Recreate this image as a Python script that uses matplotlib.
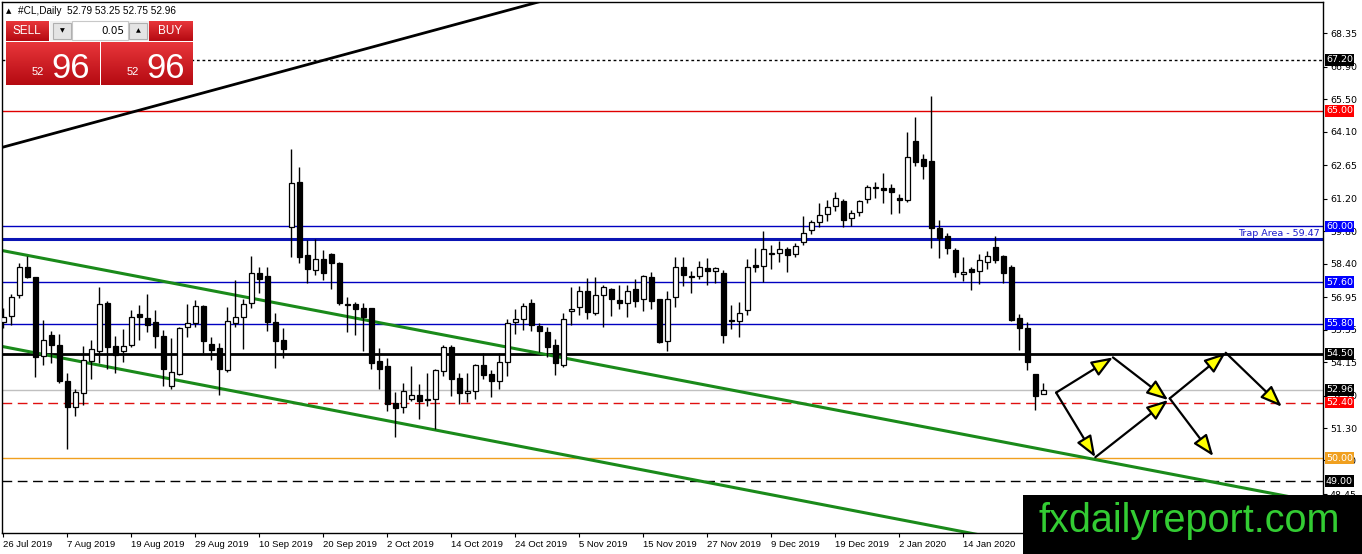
import numpy as np
import matplotlib
matplotlib.use("Agg")
import matplotlib.pyplot as plt
from matplotlib.patches import Rectangle, FancyArrowPatch
from matplotlib.colors import LinearSegmentedColormap

W, H, DPI = 1362, 554, 100

# daily bars of #CL, one per trading day starting 26 Jul 2019
opens = [55.89, 56.14, 57.03, 58.26, 57.81, 54.41, 55.30, 54.87, 53.32, 52.22,
         52.80, 54.21, 54.64, 56.71, 54.84, 54.64, 54.87, 56.22, 56.05, 55.88,
         55.27, 53.11, 53.63, 55.65, 55.82, 56.57, 54.93, 54.75, 53.81, 55.85,
         56.11, 56.71, 57.98, 57.86, 55.88, 55.10, 59.99, 61.92, 58.76, 58.12,
         58.61, 58.81, 58.41, 56.65, 56.65, 56.48, 56.48, 54.21, 53.98, 52.37,
         52.20, 52.57, 52.71, 52.57, 52.57, 53.78, 54.81, 53.46, 52.83, 52.89,
         54.01, 53.63, 53.32, 54.15, 55.88, 55.99, 56.68, 55.70, 55.45, 54.87,
         54.03, 56.36, 56.51, 57.20, 56.28, 57.03, 57.31, 56.83, 56.71, 57.31,
         56.86, 57.81, 56.86, 55.04, 56.94, 58.24, 57.83, 57.86, 58.21, 58.07,
         57.98, 55.96, 55.91, 56.39, 58.32, 58.29, 58.81, 58.87, 59.01, 58.82,
         59.32, 59.83, 60.18, 60.53, 60.87, 61.10, 60.35, 60.61, 61.19, 61.65,
         61.65, 61.65, 61.22, 61.13, 63.69, 62.91, 62.83, 59.95, 59.58, 59.00,
         57.96, 58.16, 58.08, 58.45, 59.11, 58.74, 58.25, 56.04, 55.61, 53.62,
         52.79]
highs = [56.48, 57.09, 58.42, 58.73, 57.83, 55.96, 55.50, 55.36, 53.66, 52.97,
         54.84, 55.10, 57.40, 56.77, 55.27, 55.56, 56.39, 56.62, 57.09, 56.39,
         55.53, 55.19, 55.67, 56.65, 56.83, 56.60, 55.24, 54.96, 56.54, 57.69,
         56.86, 58.73, 58.26, 58.26, 56.25, 55.61, 63.33, 62.55, 59.42, 59.47,
         58.98, 58.84, 58.47, 56.94, 56.74, 56.68, 56.48, 54.75, 54.32, 52.86,
         53.26, 53.98, 53.20, 53.66, 53.86, 54.87, 54.87, 53.69, 53.66, 54.06,
         54.53, 53.81, 54.53, 55.99, 56.42, 56.68, 56.86, 55.82, 55.65, 55.13,
         56.25, 57.40, 57.43, 57.78, 57.83, 57.46, 57.34, 57.46, 57.46, 57.72,
         57.92, 58.03, 56.88, 57.20, 58.67, 58.67, 58.09, 58.50, 58.64, 58.26,
         58.12, 56.62, 56.74, 58.61, 59.07, 59.82, 59.21, 59.39, 59.13, 59.29,
         60.47, 60.29, 61.01, 61.13, 61.47, 61.19, 60.72, 61.16, 61.79, 61.91,
         62.31, 61.82, 61.39, 64.09, 64.72, 63.12, 65.64, 60.29, 59.72, 59.06,
         58.68, 58.25, 58.80, 58.94, 59.58, 58.77, 58.34, 56.21, 55.86, 53.62,
         53.25]
lows = [55.62, 55.75, 56.91, 57.78, 53.52, 54.02, 54.12, 53.23, 50.38, 51.82,
        52.28, 53.43, 54.12, 53.86, 53.69, 54.16, 54.79, 55.10, 55.45, 54.75,
        53.11, 53.00, 53.58, 55.24, 55.67, 54.53, 54.24, 52.74, 53.72, 55.67,
        54.72, 56.48, 57.14, 55.50, 53.89, 54.32, 58.70, 58.41, 57.57, 57.92,
        57.69, 57.31, 56.60, 55.45, 55.33, 54.64, 53.86, 52.97, 52.05, 50.90,
        51.94, 52.48, 51.70, 52.25, 51.27, 53.55, 52.68, 52.34, 52.42, 52.54,
        53.40, 52.63, 52.97, 53.55, 55.36, 55.53, 55.50, 54.58, 54.35, 53.60,
        53.95, 55.73, 56.19, 56.02, 56.19, 55.67, 56.14, 56.45, 56.11, 56.54,
        56.36, 56.45, 54.96, 54.61, 56.54, 57.43, 57.14, 57.72, 57.46, 57.55,
        54.96, 55.56, 55.24, 56.19, 58.03, 57.60, 58.18, 58.47, 58.03, 58.68,
        59.20, 59.69, 59.98, 60.24, 60.67, 59.98, 60.01, 60.44, 61.01, 61.22,
        61.01, 60.55, 60.58, 61.07, 62.60, 62.05, 59.08, 58.63, 58.80, 57.82,
        57.65, 57.27, 57.50, 58.16, 58.42, 57.56, 55.92, 54.68, 53.79, 52.07,
        52.75]
closes = [56.11, 56.97, 58.26, 57.81, 54.38, 55.10, 54.90, 53.34, 52.22, 52.86,
          54.24, 54.70, 56.65, 54.81, 54.44, 54.84, 56.08, 56.08, 55.73, 55.27,
          53.86, 53.72, 55.62, 55.85, 56.57, 55.07, 54.67, 53.84, 55.91, 56.11,
          56.65, 57.98, 57.75, 55.89, 55.04, 54.72, 61.86, 58.70, 58.18, 58.58,
          57.98, 58.44, 56.68, 56.60, 56.45, 56.11, 54.12, 53.86, 52.34, 52.17,
          52.89, 52.71, 52.45, 52.51, 53.81, 54.79, 53.40, 52.80, 52.91, 54.01,
          53.60, 53.34, 54.15, 55.82, 55.99, 56.57, 55.76, 55.48, 54.79, 54.09,
          55.99, 56.45, 57.20, 56.31, 57.03, 57.37, 56.86, 56.71, 57.23, 56.80,
          57.86, 56.80, 55.01, 56.86, 58.26, 57.89, 57.86, 58.26, 58.07, 58.21,
          55.33, 55.91, 56.25, 58.26, 58.26, 59.01, 58.84, 59.01, 58.75, 59.14,
          59.72, 60.21, 60.50, 60.84, 61.22, 60.29, 60.58, 61.10, 61.70, 61.67,
          61.59, 61.47, 61.13, 63.00, 62.77, 62.62, 59.92, 59.52, 59.06, 58.02,
          58.05, 58.02, 58.54, 58.74, 58.57, 57.99, 55.95, 55.61, 54.14, 52.70,
          52.96]

date_labels = ["26 Jul 2019", "7 Aug 2019", "19 Aug 2019", "29 Aug 2019",
               "10 Sep 2019", "20 Sep 2019", "2 Oct 2019", "14 Oct 2019",
               "24 Oct 2019", "5 Nov 2019", "15 Nov 2019", "27 Nov 2019",
               "9 Dec 2019", "19 Dec 2019", "2 Jan 2020", "14 Jan 2020"]
bars_per_label = 8

price_ticks = [68.35, 66.90, 65.50, 64.10, 62.65, 61.20, 59.80, 58.40,
               56.95, 55.55, 54.15, 52.70, 51.30, 49.90, 48.45]

# horizontal levels drawn on the chart
levels = [67.20, 65.00, 60.00, 59.47, 57.60, 55.80, 54.50, 52.96, 52.40, 50.00, 49.00]
trap_level = 59.47

# trend lines, (bar, price) anchors
black_trend = [(-0.41, 63.39), (66.46, 69.65)]
channel_top = [(-0.41, 58.98), (158.3, 48.50)]
channel_bottom = [(-0.41, 54.84), (120.8, 46.77)]

# projected path arrows, (bar, price) start and end
arrow_paths = [((131.6, 52.83), (138.7, 54.35)),
               ((138.7, 54.35), (145.6, 52.51)),
               ((131.6, 52.83), (136.5, 50.04)),
               ((136.5, 50.04), (145.6, 52.51)),
               ((145.8, 52.58), (152.8, 54.55)),
               ((145.8, 52.58), (151.25, 50.09)),
               ((152.8, 54.55), (159.8, 52.22))]

header = "#CL,Daily  52.79 53.25 52.75 52.96"

# ---------------------------------------------------------------
level_style = {
    67.20: dict(color="black", lw=1, ls=(0, (2, 2))),
    65.00: dict(color="#e00000", lw=1, ls="-"),
    60.00: dict(color="#0000c0", lw=1, ls="-"),
    59.47: dict(color="#0a14b4", lw=2.2, ls="-"),
    57.60: dict(color="#0000c0", lw=1, ls="-"),
    55.80: dict(color="#0000c0", lw=1, ls="-"),
    54.50: dict(color="black", lw=2, ls="-"),
    52.96: dict(color="#c0c0c0", lw=1, ls="-"),
    52.40: dict(color="#e01010", lw=1, ls=(0, (7, 4))),
    50.00: dict(color="#f0a020", lw=1, ls="-"),
    49.00: dict(color="black", lw=1, ls=(0, (7, 4))),
}
label_bg = {67.20: "black", 65.00: "#ff0000", 60.00: "#0000ff", 57.60: "#0000ff",
            55.80: "#0000ff", 54.50: "black", 52.96: "black", 52.40: "#ff0000",
            50.00: "#f0a020", 49.00: "black"}

fig = plt.figure(figsize=(W / DPI, H / DPI), dpi=DPI)
fig.patch.set_facecolor("white")
ax = fig.add_axes([2 / W, 1 - 533 / H, 1321 / W, 531 / H])
ax.set_xlim(-0.16, 164.96)
ax.set_ylim(46.77, 69.69)

o = np.array(opens)
h = np.array(highs)
l = np.array(lows)
c = np.array(closes)
x = np.arange(len(o))
up = c >= o

for lev in levels:
    st = level_style[lev]
    ax.axhline(lev, color=st["color"], lw=st["lw"], linestyle=st["ls"], zorder=2)

def trend(pts, **kw):
    (x0, y0), (x1, y1) = pts
    k = (y1 - y0) / (x1 - x0)
    xs = np.array([-5, 175])
    ax.plot(xs, y0 + k * (xs - x0), **kw)

trend(black_trend, color="black", lw=2, zorder=2.5)
trend(channel_top, color="#1a8a1a", lw=2.2, zorder=2.5)
trend(channel_bottom, color="#1a8a1a", lw=2.2, zorder=2.5)

ax.vlines(x, l, h, color="black", lw=1, zorder=3)
ax.bar(x, np.maximum(np.abs(c - o), 0.04), bottom=np.minimum(o, c), width=0.58,
       color=np.where(up, "white", "black"), edgecolor="black", linewidth=0.9, zorder=4)

for p0, p1 in arrow_paths:
    ax.add_patch(FancyArrowPatch(p0, p1, arrowstyle="-|>,head_length=0.65,head_width=0.25",
                                 mutation_scale=20, lw=1.6, ec="black", fc="#ffff00",
                                 shrinkA=0, shrinkB=0, zorder=6))

ax.text(1 - 3 / 1321, trap_level + 0.04, "Trap Area - %.2f" % trap_level,
        transform=ax.get_yaxis_transform(), ha="right", va="bottom",
        color="#1a1acc", fontsize=6.8, zorder=5)

for sp in ax.spines.values():
    sp.set_color("black")
    sp.set_linewidth(1)

ax.yaxis.tick_right()
ax.set_yticks(price_ticks)
ax.set_yticklabels(["%.2f" % v for v in price_ticks])
ax.tick_params(axis="y", direction="out", length=3, width=0.8, pad=2, labelsize=6.8)
ax.set_xticks(np.arange(len(date_labels)) * bars_per_label)
ax.set_xticklabels(date_labels, ha="left", family="Liberation Sans", fontsize=6.8)
ax.tick_params(axis="x", direction="out", length=3, width=0.8, pad=2)

for lev, bg in label_bg.items():
    ax.text(1 + 3 / 1321, lev, "%.2f" % lev, transform=ax.get_yaxis_transform(),
            ha="left", va="center", color="white", fontsize=6.8, clip_on=False,
            bbox=dict(boxstyle="square,pad=0.15", fc=bg, ec="none"), zorder=10)

# ---- trade panel (pixel coordinates) ----
def fx(px):
    return px / W

def fy(py):
    return 1 - py / H

red_cmap = LinearSegmentedColormap.from_list("btn", ["#e8363a", "#b50a12"])

def red_box(x0, y0, x1, y1):
    bax = fig.add_axes([fx(x0), fy(y1), (x1 - x0) / W, (y1 - y0) / H])
    bax.imshow(np.linspace(0, 1, 40)[:, None], aspect="auto", cmap=red_cmap)
    bax.axis("off")
    bax.set_zorder(5)

fig.text(fx(6), fy(11), "\u25b2", fontsize=5, va="center", ha="left")
fig.text(fx(18), fy(11), header, fontsize=7.2, va="center", ha="left",
         family="Liberation Sans")

red_box(6, 21, 49, 41)
red_box(149, 21, 193, 41)
red_box(6, 42, 99, 85)
red_box(101, 42, 193, 85)
fig.add_artist(Rectangle((fx(50), fy(41)), 99 / W, 20 / H, transform=fig.transFigure,
                         fc="#f0f0f0", ec="none", zorder=4))
fig.add_artist(Rectangle((fx(72), fy(40)), 56 / W, 19 / H, transform=fig.transFigure,
                         fc="white", ec="#c8c8c8", lw=0.8, zorder=4.5))
for bx in (53, 129):
    fig.add_artist(Rectangle((fx(bx), fy(39)), 18 / W, 16 / H, transform=fig.transFigure,
                             fc="#e4e4e4", ec="#b0b0b0", lw=0.8, zorder=4.5))
fig.text(fx(62), fy(31), "\u25bc", fontsize=4.5, ha="center", va="center", zorder=6)
fig.text(fx(138), fy(31), "\u25b2", fontsize=4.5, ha="center", va="center", zorder=6)
fig.text(fx(124), fy(31), "0.05", fontsize=7.5, ha="right", va="center", zorder=6)
fig.text(fx(27), fy(31), "SELL", fontsize=8.5, color="white", ha="center", va="center",
         family="Liberation Sans", zorder=6)
fig.text(fx(170), fy(31), "BUY", fontsize=8.5, color="white", ha="center", va="center",
         family="Liberation Sans", zorder=6)
for x0 in (6, 101):
    fig.text(fx(x0 + 38), fy(75), "52", fontsize=8, color="white", ha="right",
             va="baseline", family="Liberation Sans", zorder=6)
    fig.text(fx(x0 + 45), fy(78), "96", fontsize=25, color="white", ha="left",
             va="baseline", family="Liberation Sans", zorder=6)

# ---- watermark ----
fig.add_artist(Rectangle((fx(1023), 0), (W - 1023) / W, (H - 495) / H,
                         transform=fig.transFigure, fc="black", ec="none", zorder=20))
fig.text(fx(1189), fy(532), "fxdailyreport.com", fontsize=28.5, color="#33cc33",
         family="Liberation Sans", ha="center", va="baseline", zorder=21)

fig.savefig("out.png", dpi=DPI)
